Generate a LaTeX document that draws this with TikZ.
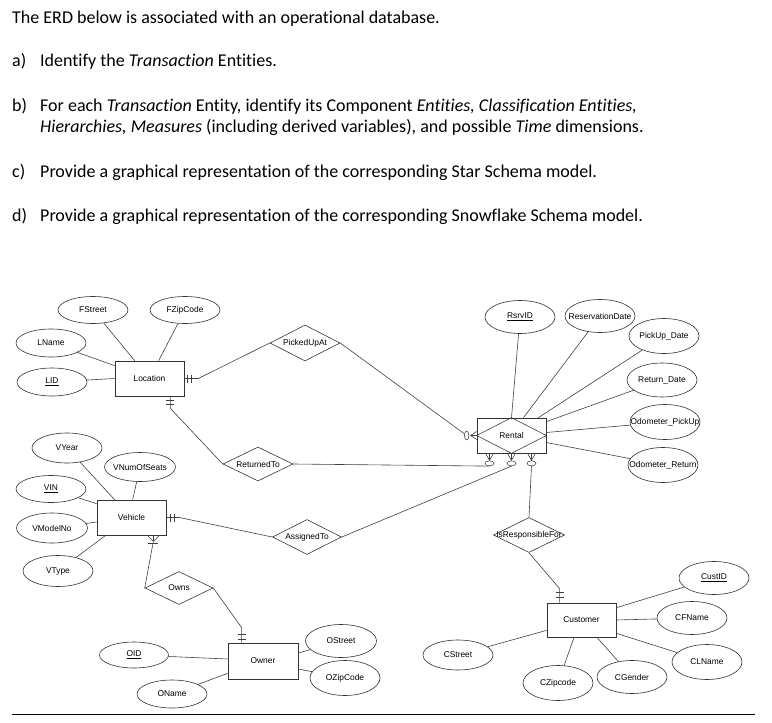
\documentclass[tikz,border=0pt]{standalone}
\usepackage{fontspec}
\setmainfont{Carlito}[Ligatures=NoCommon]
\newfontfamily\erfont{Liberation Sans}
\usetikzlibrary{shapes.geometric}
\newcommand\zb[1]{\hbox to 0pt{\hss#1\hss}}
\begin{document}
\begin{tikzpicture}[x=1pt,y=-1pt,
  q/.style={anchor=base west, inner sep=0pt, font=\fontsize{18}{22}\selectfont},
  ln/.style={draw=black!75, line width=0.6pt},
  erf/.style={font=\erfont\fontsize{8.4}{10}\selectfont},
  attr/.style={erf, ellipse, draw=black!80, line width=0.6pt, inner sep=0pt, minimum width=70pt, minimum height=30pt},
  ent/.style={erf, rectangle, draw=black!80, line width=0.7pt, inner sep=0pt, minimum width=69pt, minimum height=35pt},
  rel/.style={erf, diamond, draw=black!80, line width=0.6pt, inner sep=0pt, minimum width=70pt, minimum height=35pt},
  opt/.style={ellipse, draw=black!80, line width=0.5pt, inner sep=0pt}
]
\useasboundingbox (0,0) rectangle (772,723);

% question text
\node[q] (t0) at (12,23) {The ERD below is associated with an operational database.};
\node[q] (ta) at (12,66) {a)};
\node[q] (ta2) at (40,66) {Identify the \textit{Transaction} Entities.};
\node[q] (tb) at (12,111) {b)};
\node[q] (tb2) at (40,111) {For each \textit{Transaction} Entity, identify its Component \textit{Entities, Classification Entities,}};
\node[q] (tb3) at (40,132) {\textit{Hierarchies, Measures} (including derived variables), and possible \textit{Time} dimensions.};
\node[q] (tc) at (12,177) {c)};
\node[q] (tc2) at (40,177) {Provide a graphical representation of the corresponding Star Schema model.};
\node[q] (td) at (12,221) {d)};
\node[q] (td2) at (40,221) {Provide a graphical representation of the corresponding Snowflake Schema model.};

% entities
\node[ent] (Location) at (149.5,378.5) {\zb{Location}};
\node[ent] (Vehicle) at (131.5,517.5) {\zb{Vehicle}};
\node[ent, minimum width=70pt, minimum height=36pt] (Owner) at (263,661) {\zb{Owner}};
\node[ent] (Rental) at (511.5,435.5) {\zb{Rental}};
\node[ent, minimum height=34pt] (Customer) at (581.5,620) {\zb{Customer}};

% relationships
\node[rel, minimum height=36pt] (PickedUpAt) at (305,343) {\zb{PickedUpAt}};
\node[rel, minimum height=34pt] (ReturnedTo) at (258,464) {\zb{ReturnedTo}};
\node[rel, minimum width=69pt] (AssignedTo) at (307,537) {\zb{AssignedTo}};
\node[rel, minimum width=68pt, minimum height=33pt] (Owns) at (179,588) {\zb{Owns}};
\node[rel, minimum width=71pt] (IsResp) at (529,535) {\zb{IsResponsibleFor}};

% attributes
\node[attr, minimum height=27pt] (FStreet) at (93,310) {\zb{FStreet}};
\node[attr, minimum height=27pt] (FZipCode) at (185,310) {\zb{FZipCode}};
\node[attr, minimum height=28pt] (LName) at (51,343) {\zb{LName}};
\node[attr, minimum height=28pt] (LID) at (52,382) {\zb{\underline{LID}}};
\node[attr] (VYear) at (67,448) {\zb{VYear}};
\node[attr, minimum width=71pt, minimum height=29pt] (VNumOfSeats) at (140,467) {\zb{VNumOfSeats}};
\node[attr, minimum height=27pt] (VIN) at (51,489) {\zb{\underline{VIN}}};
\node[attr, minimum width=71pt] (VModelNo) at (52,528) {\zb{VModelNo}};
\node[attr, minimum height=31pt] (VType) at (58,571) {\zb{VType}};
\node[attr, minimum width=69pt, minimum height=26pt] (OID) at (134,655) {\zb{\underline{OID}}};
\node[attr, minimum height=28pt] (OName) at (172,694) {\zb{OName}};
\node[attr, minimum width=71pt, minimum height=33pt] (OStreet) at (341,641) {\zb{OStreet}};
\node[attr, minimum height=35pt] (OZipCode) at (345,678) {\zb{OZipCode}};
\node[attr, minimum height=33pt] (RsrvID) at (520,317) {\zb{\underline{RsrvID}}};
\node[attr, minimum height=33pt] (ReservationDate) at (600,316) {\zb{ReservationDate}};
\node[attr, minimum height=35pt] (PickUpDate) at (664,336) {\zb{PickUp\_Date}};
\node[attr, minimum height=34pt] (ReturnDate) at (662,380) {\zb{Return\_Date}};
\node[attr, minimum height=35pt] (OdoPick) at (665,422) {\zb{Odometer\_PickUp}};
\node[attr, minimum height=35pt] (OdoRet) at (663,465) {\zb{Odometer\_Return}};
\node[attr, minimum height=33pt] (CustID) at (714,578) {\zb{\underline{CustID}}};
\node[attr, minimum height=33pt] (CFName) at (692,618) {\zb{CFName}};
\node[attr, minimum height=35pt] (CLName) at (707,662) {\zb{CLName}};
\node[attr] (CStreet) at (458,655) {\zb{CStreet}};
\node[attr, minimum height=35pt] (CZipcode) at (558,683) {\zb{CZipcode}};
\node[attr, minimum height=33pt] (CGender) at (632,677) {\zb{CGender}};

% attribute links
\draw[ln] (FStreet) -- ([xshift=20pt]Location.north west);
\draw[ln] (FZipCode) -- ([xshift=44pt]Location.north west);
\draw[ln] (LName) -- ([yshift=-5pt]Location.north west);
\draw[ln] (LID) -- (Location.west);
\draw[ln] (VYear) -- ([xshift=18pt]Vehicle.north west);
\draw[ln] (VNumOfSeats) -- ([xshift=36pt]Vehicle.north west);
\draw[ln] (VIN) -- ([yshift=-4pt]Vehicle.north west);
\draw[ln] (VModelNo) -- ([yshift=-4.5pt]Vehicle.west);
\draw[ln] (VType) -- ([xshift=9pt]Vehicle.south west);
\draw[ln] (OID) -- ([yshift=2pt]Owner.west);
\draw[ln] (OName) -- ([yshift=6pt]Owner.south west);
\draw[ln] (OStreet) -- ([yshift=8pt]Owner.east);
\draw[ln] (OZipCode) -- ([yshift=-8pt]Owner.east);
\draw[ln] (RsrvID) -- (Rental.north);
\draw[ln] (ReservationDate) -- ([xshift=12pt]Rental.north);
\draw[ln] (PickUpDate) -- ([xshift=-8pt]Rental.north east);
\draw[ln] (ReturnDate) -- ([yshift=-4pt]Rental.north east);
\draw[ln] (OdoPick) -- ([yshift=3pt]Rental.east);
\draw[ln] (OdoRet) -- ([yshift=-7pt]Rental.east);
\draw[ln] (CustID) -- ([yshift=-5pt]Customer.north east);
\draw[ln] (CFName) -- (Customer.east);
\draw[ln] (CLName) -- ([yshift=4pt]Customer.south east);
\draw[ln] (CStreet) -- ([yshift=7pt]Customer.south west);
\draw[ln] (CZipcode) -- ([xshift=-7.5pt]Customer.south);
\draw[ln] (CGender) -- ([xshift=15.5pt]Customer.south);

% Rental inner diamond (associative entity)
\draw[ln] (Rental.west) -- (Rental.north) -- (Rental.east) -- (Rental.south) -- cycle;

% Location -- PickedUpAt
\coordinate (locE) at ([xshift=14pt]Location.east);
\draw[ln] (Location.east) -- (locE) -- (PickedUpAt.west);
\draw[ln] ([xshift=3pt,yshift=4pt]Location.east) -- ([xshift=3pt,yshift=-4pt]Location.east);
\draw[ln] ([xshift=7pt,yshift=4pt]Location.east) -- ([xshift=7pt,yshift=-4pt]Location.east);

% Location -- ReturnedTo
\coordinate (locS) at ([xshift=-14pt,yshift=-12pt]Location.south east);
\draw[ln] ([xshift=-14pt]Location.south east) -- (locS) -- (ReturnedTo.west);
\draw[ln] ([xshift=-18pt,yshift=-4pt]Location.south east) -- ([xshift=-10pt,yshift=-4pt]Location.south east);
\draw[ln] ([xshift=-18pt,yshift=-8pt]Location.south east) -- ([xshift=-10pt,yshift=-8pt]Location.south east);

% Vehicle -- AssignedTo
\coordinate (vehE) at ([xshift=13pt]Vehicle.east);
\draw[ln] (Vehicle.east) -- (vehE) -- (AssignedTo.west);
\draw[ln] ([xshift=4pt,yshift=4pt]Vehicle.east) -- ([xshift=4pt,yshift=-4pt]Vehicle.east);
\draw[ln] ([xshift=8pt,yshift=4pt]Vehicle.east) -- ([xshift=8pt,yshift=-4pt]Vehicle.east);

% Vehicle -- Owns (crow's foot)
\coordinate (vehT) at ([xshift=-13pt,yshift=-6pt]Vehicle.south east);
\draw[ln] ([xshift=-19pt]Vehicle.south east) -- (vehT);
\draw[ln] ([xshift=-13pt]Vehicle.south east) -- (vehT);
\draw[ln] ([xshift=-7pt]Vehicle.south east) -- (vehT);
\draw[ln] ([xshift=-18pt,yshift=-8pt]Vehicle.south east) -- ([xshift=-8pt,yshift=-8pt]Vehicle.south east);
\draw[ln] (vehT) -- (Owns.west);

% Owns -- Owner
\coordinate (ownT) at ([xshift=14pt,yshift=15pt]Owner.north west);
\draw[ln] (Owns.east) -- (ownT) -- ([xshift=14pt]Owner.north west);
\draw[ln] ([xshift=10pt,yshift=3pt]Owner.north west) -- ([xshift=18pt,yshift=3pt]Owner.north west);
\draw[ln] ([xshift=10pt,yshift=8pt]Owner.north west) -- ([xshift=18pt,yshift=8pt]Owner.north west);

% Rental left crow's foot (optional many)
\node[opt, minimum width=4.5pt, minimum height=9pt] (rl) at ([xshift=-10pt]Rental.west) {};
\coordinate (rlT) at ([xshift=-6pt]Rental.west);
\draw[ln] ([yshift=4pt]Rental.west) -- (rlT) -- ([yshift=-4pt]Rental.west);
\draw[ln] (Rental.west) -- (rlT);
\draw[ln] (PickedUpAt.east) -- (rl);

% Rental bottom crow's feet
\foreach \n/\dx in {rb1/-22,rb2/0,rb3/20}{
  \node[opt, minimum width=9pt, minimum height=5pt] (\n) at ([xshift=\dx pt,yshift=-10pt]Rental.south) {};
  \coordinate (\n T) at ([xshift=\dx pt,yshift=-7pt]Rental.south);
  \draw[ln] ([xshift={(\dx-4)*1pt}]Rental.south) -- (\n T) -- ([xshift={(\dx+4)*1pt}]Rental.south);
  \draw[ln] ([xshift=\dx pt]Rental.south) -- (\n T);
}
\draw[ln] (ReturnedTo.east) -- (rb1.south);
\draw[ln] (AssignedTo.east) -- (rb2.south);
\draw[ln] (rb3.south) -- (IsResp.north);

% IsResponsibleFor -- Customer
\coordinate (cusT) at ([xshift=13pt,yshift=14pt]Customer.north west);
\draw[ln] (IsResp.south) -- (cusT) -- ([xshift=13pt]Customer.north west);
\draw[ln] ([xshift=9pt,yshift=5pt]Customer.north west) -- ([xshift=17pt,yshift=5pt]Customer.north west);
\draw[ln] ([xshift=9pt,yshift=10pt]Customer.north west) -- ([xshift=17pt,yshift=10pt]Customer.north west);

% bottom rule
\draw[line width=0.9pt] (12,714) -- (755,714);
\end{tikzpicture}
\end{document}
